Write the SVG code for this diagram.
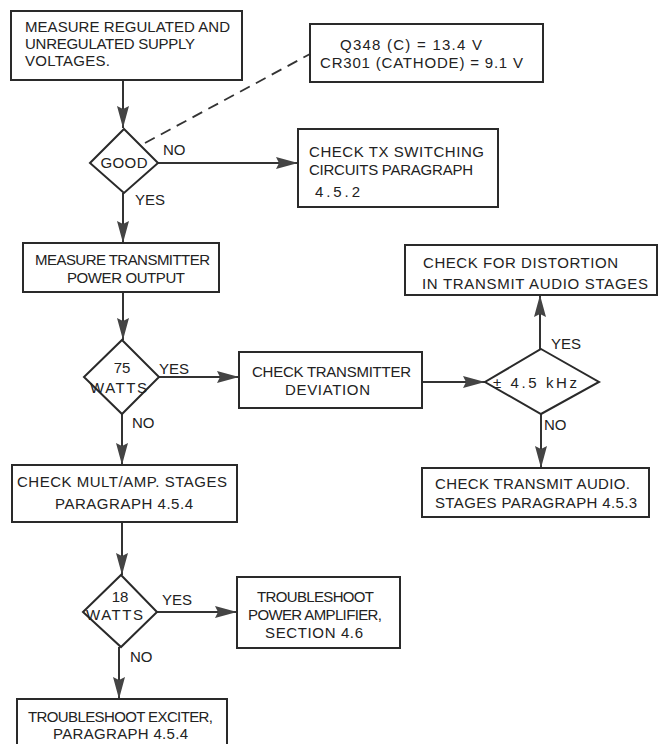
<svg xmlns="http://www.w3.org/2000/svg" width="661" height="744" viewBox="0 0 661 744">
<style>
.box{fill:#fff;stroke:#2a2a2a;stroke-width:2}
.dia{fill:#fff;stroke:#2a2a2a;stroke-width:2}
.ln{fill:none;stroke:#333;stroke-width:2}
.dash{fill:none;stroke:#333;stroke-width:1.8;stroke-dasharray:11 7}
text{font-family:"Liberation Sans","DejaVu Sans",sans-serif;font-size:15px;fill:#222}
.c{text-anchor:middle}
</style>
<defs>
<marker id="ah" markerUnits="userSpaceOnUse" markerWidth="22" markerHeight="12" refX="22" refY="6" orient="auto">
<path d="M0,0 L22,6 L0,12 L3,6 z" fill="#444"/>
</marker>
</defs>
<rect width="661" height="744" fill="#fff"/>
<g id="connectors">
<line class="ln" x1="123" y1="80" x2="123" y2="128" marker-end="url(#ah)"/>
<line class="dash" x1="145" y1="143" x2="310" y2="54"/>
<line class="ln" x1="158" y1="163" x2="298" y2="163" marker-end="url(#ah)"/>
<line class="ln" x1="123" y1="193" x2="123" y2="243" marker-end="url(#ah)"/>
<line class="ln" x1="123" y1="292" x2="123" y2="340" marker-end="url(#ah)"/>
<line class="ln" x1="159" y1="377" x2="239" y2="377" marker-end="url(#ah)"/>
<line class="ln" x1="422" y1="382" x2="485" y2="382" marker-end="url(#ah)"/>
<line class="ln" x1="540" y1="349" x2="540" y2="295" marker-end="url(#ah)"/>
<line class="ln" x1="541" y1="414" x2="541" y2="468" marker-end="url(#ah)"/>
<line class="ln" x1="122" y1="414" x2="122" y2="465" marker-end="url(#ah)"/>
<line class="ln" x1="122" y1="522" x2="122" y2="575" marker-end="url(#ah)"/>
<line class="ln" x1="157" y1="612" x2="237" y2="612" marker-end="url(#ah)"/>
<line class="ln" x1="119" y1="647" x2="119" y2="699" marker-end="url(#ah)"/>
<text x="163" y="155">NO</text>
<text x="135" y="205">YES</text>
<text x="159" y="374">YES</text>
<text x="132" y="428">NO</text>
<text x="551" y="349">YES</text>
<text x="544" y="430">NO</text>
<text x="162" y="605">YES</text>
<text x="130" y="662">NO</text>
</g>
<g id="measure-supply">
<rect class="box" x="11" y="11" width="231" height="69"/>
<text x="25" y="32" textLength="205" lengthAdjust="spacing">MEASURE REGULATED AND</text>
<text x="25" y="49" textLength="170" lengthAdjust="spacing">UNREGULATED SUPPLY</text>
<text x="25" y="66" textLength="85" lengthAdjust="spacing">VOLTAGES.</text>
</g>
<g id="voltages-note">
<rect class="box" x="310" y="24" width="233" height="58"/>
<text x="340" y="50" textLength="142" lengthAdjust="spacing">Q348 (C) = 13.4 V</text>
<text x="320" y="68" textLength="203" lengthAdjust="spacing">CR301 (CATHODE) = 9.1 V</text>
</g>
<g id="good">
<polygon class="dia" points="124,129 158,163 124,193 90,163"/>
<text x="124" y="168" class="c" textLength="47" lengthAdjust="spacing">GOOD</text>
</g>
<g id="check-tx-switching">
<rect class="box" x="298" y="129" width="200" height="78"/>
<text x="309" y="157" textLength="175" lengthAdjust="spacing">CHECK TX SWITCHING</text>
<text x="309" y="175" textLength="164" lengthAdjust="spacing">CIRCUITS PARAGRAPH</text>
<text x="315" y="197" textLength="45" lengthAdjust="spacing">4.5.2</text>
</g>
<g id="measure-power">
<rect class="box" x="23" y="243" width="196" height="49"/>
<text x="35" y="265" textLength="175" lengthAdjust="spacing">MEASURE TRANSMITTER</text>
<text x="67" y="283" textLength="118" lengthAdjust="spacing">POWER OUTPUT</text>
</g>
<g id="watts75">
<polygon class="dia" points="122,340 159,377 122,414 84,377"/>
<text x="122" y="373" class="c">75</text>
<text x="90" y="393" textLength="57" lengthAdjust="spacing">WATTS</text>
</g>
<g id="check-deviation">
<rect class="box" x="239" y="352" width="183" height="56"/>
<text x="252" y="377" textLength="159" lengthAdjust="spacing">CHECK TRANSMITTER</text>
<text x="285" y="395" textLength="85" lengthAdjust="spacing">DEVIATION</text>
</g>
<g id="khz">
<polygon class="dia" points="541,349 599,382 541,414 485,382"/>
<text x="493" y="388" textLength="84" lengthAdjust="spacing">± 4.5 kHz</text>
</g>
<g id="check-distortion">
<rect class="box" x="405" y="245" width="252" height="50"/>
<text x="423" y="268" textLength="195" lengthAdjust="spacing">CHECK FOR DISTORTION</text>
<text x="422" y="289" textLength="226" lengthAdjust="spacing">IN TRANSMIT AUDIO STAGES</text>
</g>
<g id="check-audio">
<rect class="box" x="422" y="468" width="227" height="49"/>
<text x="435" y="489" textLength="195" lengthAdjust="spacing">CHECK TRANSMIT AUDIO.</text>
<text x="435" y="508" textLength="202" lengthAdjust="spacing">STAGES PARAGRAPH 4.5.3</text>
</g>
<g id="check-mult">
<rect class="box" x="12" y="465" width="225" height="57"/>
<text x="17" y="487" textLength="210" lengthAdjust="spacing">CHECK MULT/AMP. STAGES</text>
<text x="55" y="509" textLength="138" lengthAdjust="spacing">PARAGRAPH 4.5.4</text>
</g>
<g id="watts18">
<polygon class="dia" points="121,575 157,612 121,647 83,612"/>
<text x="120" y="602" class="c">18</text>
<text x="86" y="620" textLength="57" lengthAdjust="spacing">WATTS</text>
</g>
<g id="troubleshoot-pa">
<rect class="box" x="237" y="577" width="163" height="71"/>
<text x="257" y="602" textLength="117" lengthAdjust="spacing">TROUBLESHOOT</text>
<text x="248" y="620" textLength="134" lengthAdjust="spacing">POWER AMPLIFIER,</text>
<text x="265" y="638" textLength="98" lengthAdjust="spacing">SECTION 4.6</text>
</g>
<g id="troubleshoot-exciter">
<rect class="box" x="17" y="699" width="210" height="50"/>
<text x="28" y="722" textLength="185" lengthAdjust="spacing">TROUBLESHOOT EXCITER,</text>
<text x="53" y="739" textLength="135" lengthAdjust="spacing">PARAGRAPH 4.5.4</text>
</g>
</svg>
